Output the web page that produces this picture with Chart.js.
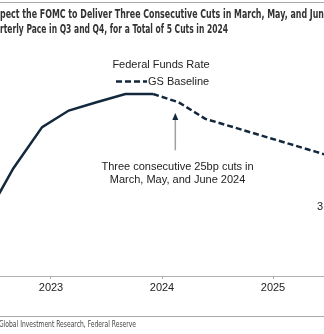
<!DOCTYPE html>
<html><head><meta charset="utf-8">
<script src="https://cdn.jsdelivr.net/npm/chart.js@4/dist/chart.umd.min.js"></script>
<style>html,body{margin:0;padding:0;background:#fff;overflow:hidden}#wrap{position:relative;width:324px;height:334px}canvas{display:block}</style>
</head><body><div id="wrap"><canvas id="c" width="324" height="334"></canvas></div>
<script>
const yearTicks = [2023, 2024, 2025];
const actualDates = [2022.41, 2022.66, 2022.92, 2023.16, 2023.41, 2023.67, 2023.92];
const actualRate = [1.75, 3.25, 4.5, 5.0, 5.25, 5.5, 5.5];
const baselineDates = [2023.92, 2024.15, 2024.39, 2024.64, 2024.89, 2025.14, 2025.39, 2025.64];
const baselineRate = [5.5, 5.25, 4.75, 4.5, 4.25, 4.0, 3.75, 3.5];
const seriesNames = ["Federal Funds Rate", "GS Baseline"];
const titleLines = ["pect the FOMC to Deliver Three Consecutive Cuts in March, May, and Jun",
                    "rterly Pace in Q3 and Q4, for a Total of 5 Cuts in 2024"];
const annotationLines = ["Three consecutive 25bp cuts in", "March, May, and June 2024"];
const sideLabel = "3";
const sourceText = "Global Investment Research, Federal Reserve";

const NAVY = '#13283d';
const SANS = '"Liberation Sans", Arial, sans-serif';
const NARROW = '"Liberation Sans Narrow", "DejaVu Sans Condensed", "Roboto Condensed", sans-serif';

function fitText(ctx, text, x, y, width, font, color) {
  ctx.save();
  ctx.font = font;
  ctx.fillStyle = color;
  ctx.textBaseline = 'middle';
  ctx.textAlign = 'left';
  const w = ctx.measureText(text).width;
  ctx.translate(x, y);
  ctx.scale(width / w, 1);
  ctx.fillText(text, 0, 0);
  ctx.restore();
}

const decor = {
  id: 'decor',
  afterDraw(chart) {
    const ctx = chart.ctx;
    const xs = chart.scales.x, ys = chart.scales.y;
    ctx.save();
    // frame rules
    ctx.strokeStyle = '#a8a8a8';
    ctx.lineWidth = 1;
    ctx.beginPath(); ctx.moveTo(0, 2.5); ctx.lineTo(324, 2.5); ctx.stroke();
    ctx.beginPath(); ctx.moveTo(0, 316.5); ctx.lineTo(324, 316.5); ctx.stroke();
    // title
    fitText(ctx, titleLines[0], 0, 15, 324, 'bold 12px ' + NARROW, '#333');
    fitText(ctx, titleLines[1], 0, 30, 228, 'bold 12px ' + NARROW, '#333');
    // source
    fitText(ctx, sourceText, -1, 325, 137, '9px ' + NARROW, '#444');
    // legend
    ctx.font = '11px ' + SANS;
    ctx.fillStyle = '#222';
    ctx.textBaseline = 'middle';
    ctx.textAlign = 'center';
    ctx.fillText(seriesNames[0], 161, 65);
    ctx.textAlign = 'left';
    ctx.fillText(seriesNames[1], 148, 82);
    ctx.strokeStyle = NAVY;
    ctx.lineWidth = 2.5;
    ctx.setLineDash([6, 3]);
    ctx.beginPath(); ctx.moveTo(116, 81.5); ctx.lineTo(147, 81.5); ctx.stroke();
    ctx.setLineDash([]);
    // annotation arrow
    const ax = xs.getPixelForValue(2024.12);
    const tipY = ys.getPixelForValue(4.93);
    const tailY = ys.getPixelForValue(3.8);
    ctx.strokeStyle = '#a0a0a0';
    ctx.lineWidth = 1.5;
    ctx.beginPath(); ctx.moveTo(ax, tipY + 5); ctx.lineTo(ax, tailY); ctx.stroke();
    ctx.fillStyle = NAVY;
    ctx.beginPath(); ctx.moveTo(ax, tipY); ctx.lineTo(ax - 3, tipY + 7); ctx.lineTo(ax + 3, tipY + 7); ctx.closePath(); ctx.fill();
    // annotation text
    ctx.font = '11px ' + SANS;
    ctx.fillStyle = '#222';
    ctx.textAlign = 'center';
    const tx = xs.getPixelForValue(2024.14);
    ctx.fillText(annotationLines[0], tx, ys.getPixelForValue(3.29));
    ctx.fillText(annotationLines[1], tx, ys.getPixelForValue(2.9));
    ctx.textAlign = 'left';
    ctx.fillText(sideLabel, 317, ys.getPixelForValue(2.08));
    ctx.restore();
  }
};

new Chart(document.getElementById('c'), {
  type: 'line',
  data: {
    datasets: [
      { label: seriesNames[0], data: actualDates.map((d, i) => ({x: d, y: actualRate[i]})),
        borderColor: NAVY, borderWidth: 2.5, pointRadius: 0, tension: 0, fill: false },
      { label: seriesNames[1], data: baselineDates.map((d, i) => ({x: d, y: baselineRate[i]})),
        borderColor: NAVY, borderWidth: 2.5, borderDash: [6, 3], pointRadius: 0, tension: 0, fill: false }
    ]
  },
  options: {
    responsive: false,
    devicePixelRatio: 1,
    animation: false,
    layout: { padding: { top: 11.3, bottom: 18, left: 0, right: 0 } },
    plugins: { legend: { display: false }, tooltip: { enabled: false }, title: { display: false } },
    scales: {
      x: {
        type: 'linear',
        min: 2023 - 51 / 111,
        max: 2023 + 273 / 111,
        afterBuildTicks: s => { s.ticks = yearTicks.map(v => ({ value: v })); },
        afterFit: s => { s.height = 40; },
        border: { display: true, color: '#b0b0b0', width: 1 },
        grid: { drawOnChartArea: false, drawTicks: true, tickLength: 3, color: '#b0b0b0' },
        ticks: { padding: 2, color: '#222', font: { family: SANS, size: 11 }, callback: v => String(v), maxRotation: 0 }
      },
      y: { display: false, min: 0, max: 8 }
    }
  },
  plugins: [decor]
});
</script></body></html>
